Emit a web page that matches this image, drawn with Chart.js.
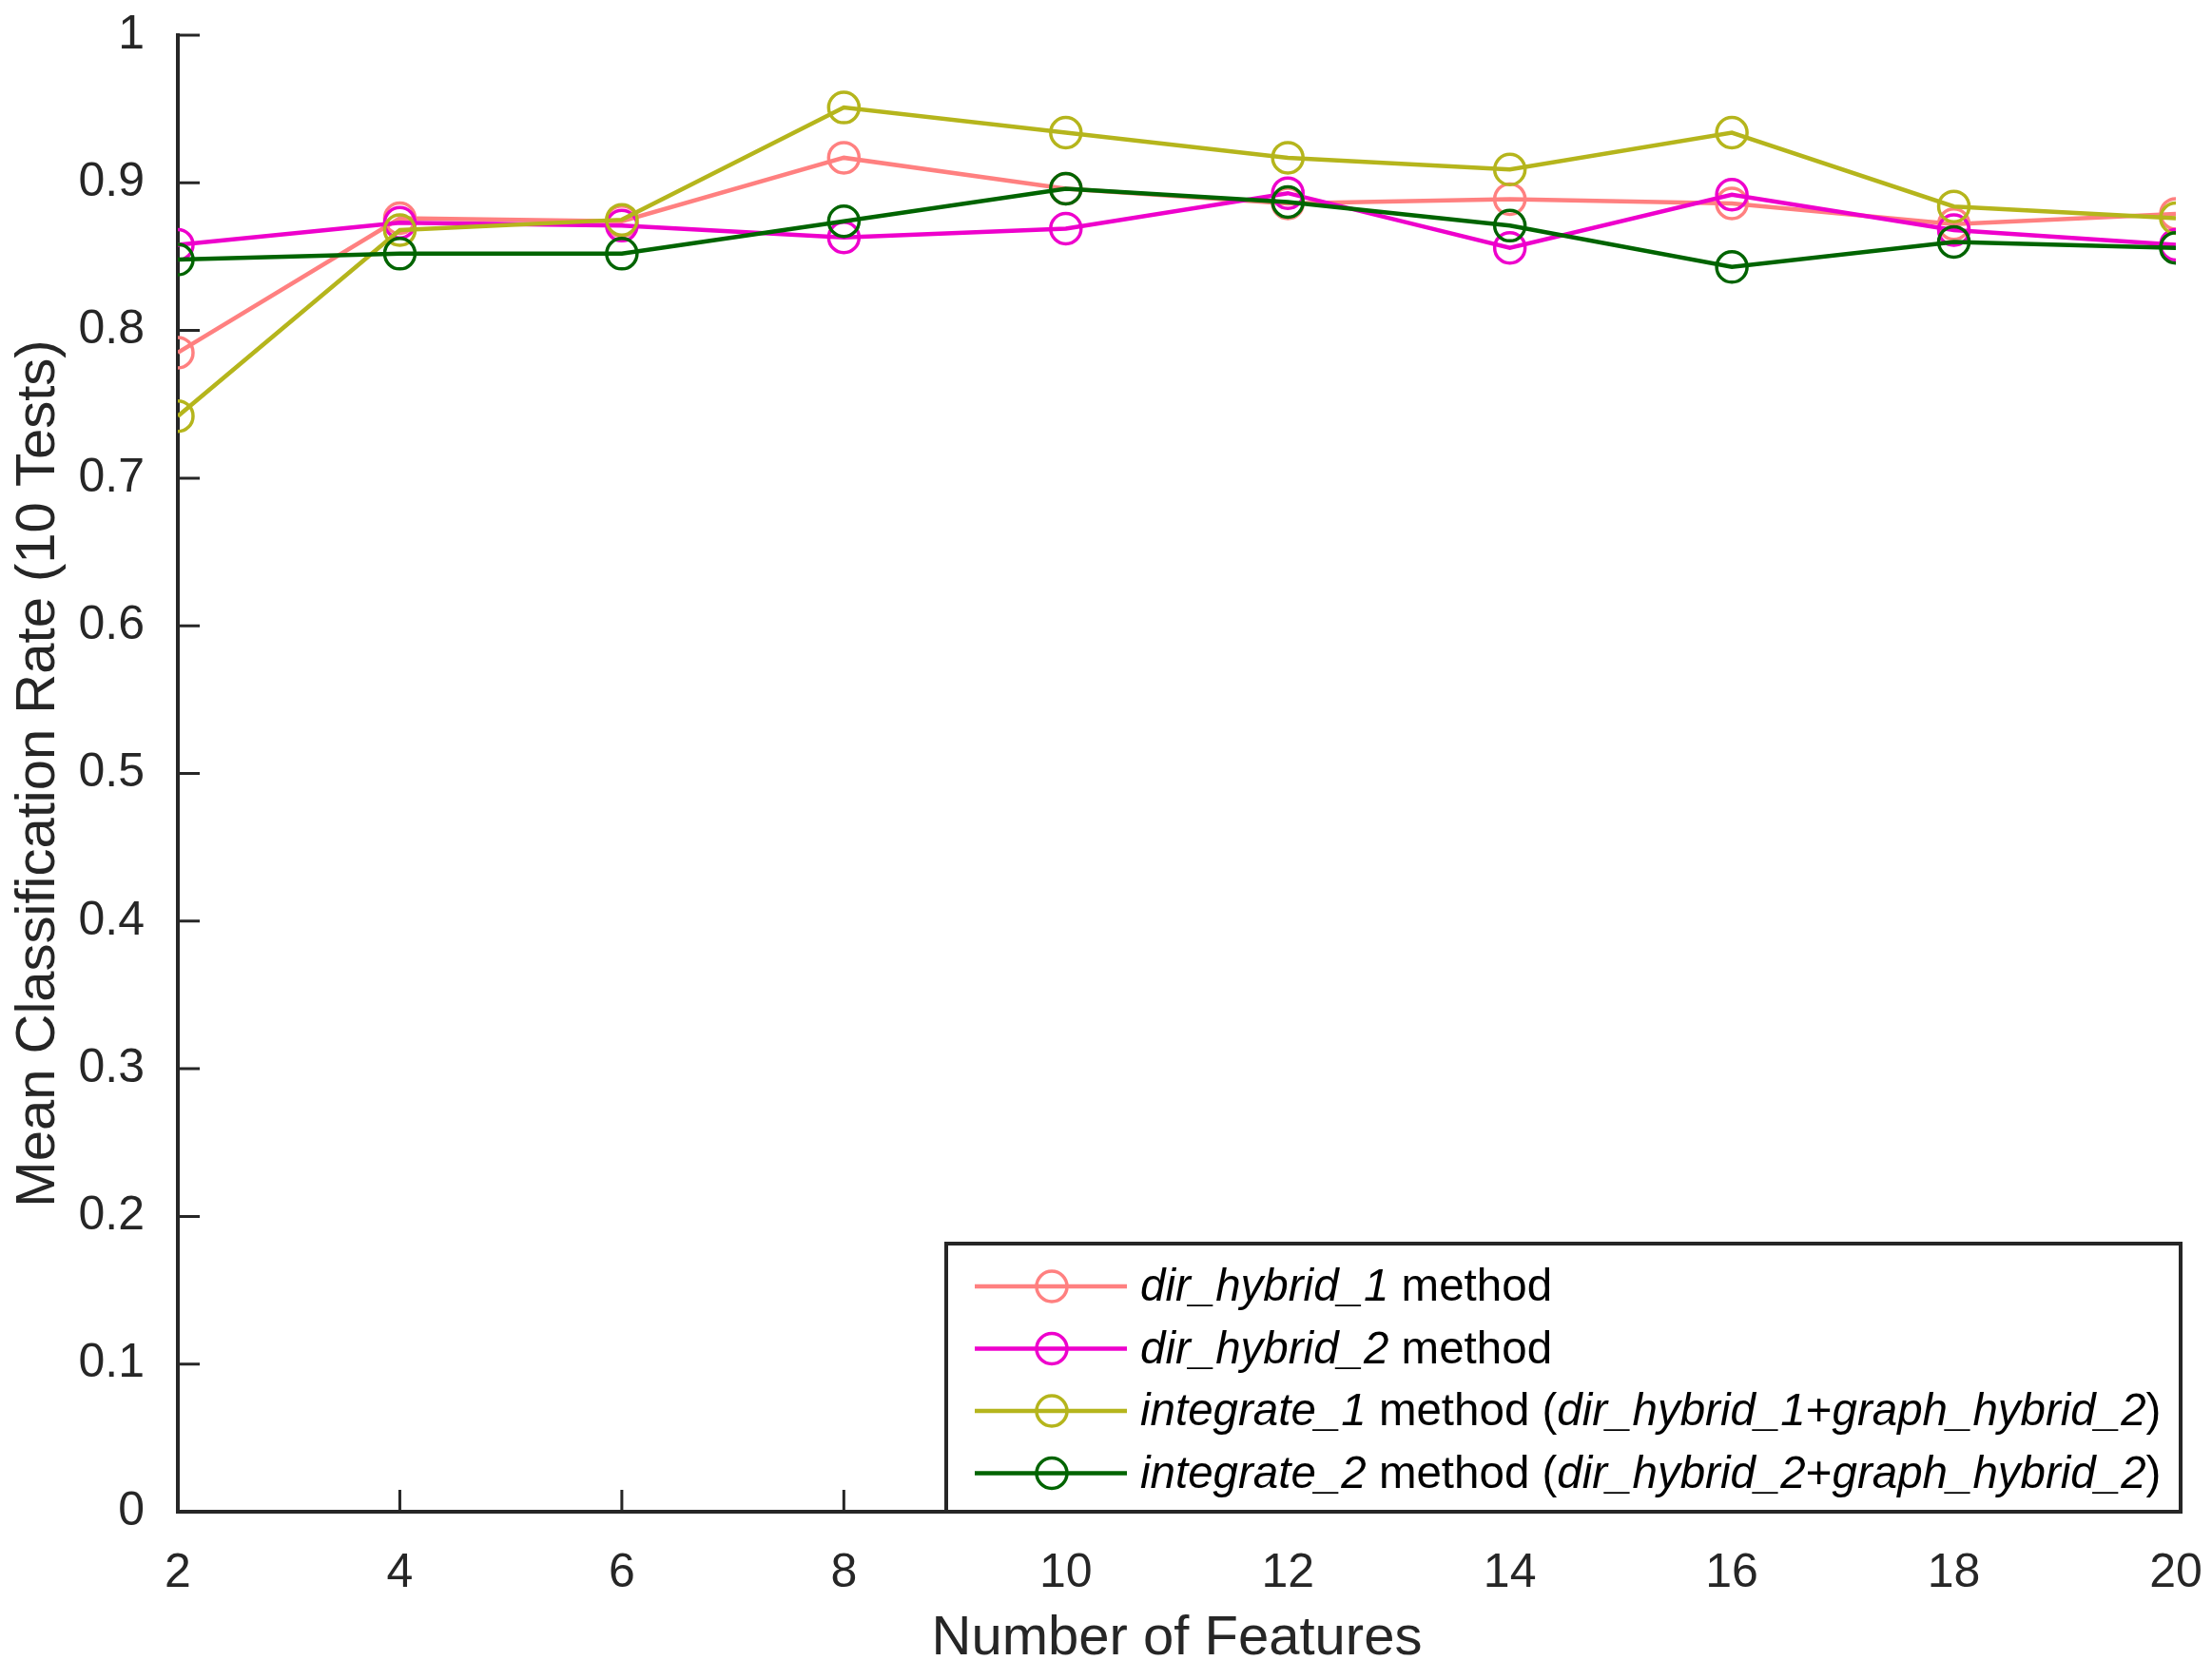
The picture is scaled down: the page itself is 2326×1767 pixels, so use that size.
<!DOCTYPE html>
<html>
<head>
<meta charset="utf-8">
<script src="https://cdn.jsdelivr.net/npm/chart.js@4.4.1/dist/chart.umd.min.js"></script>
<style>
    html, body { margin: 0; padding: 0; background: #fff; }
    #wrap { width: 2326px; height: 1767px; }
</style>
</head>
<body>
<div id="wrap"><canvas id="mainChart" width="2326" height="1767"></canvas></div>
<script>
// ข้อมูลที่อ่านจากกราฟ
const features = [2, 4, 6, 8, 10, 12, 14, 16, 18, 20];
const dirHybrid1 = [0.785, 0.876, 0.874, 0.917, 0.896, 0.886, 0.889, 0.886, 0.872, 0.879];
const dirHybrid2 = [0.858, 0.873, 0.871, 0.863, 0.869, 0.893, 0.856, 0.892, 0.868, 0.858];
const integrate1 = [0.742, 0.868, 0.875, 0.951, 0.934, 0.917, 0.909, 0.934, 0.884, 0.876];
const integrate2 = [0.848, 0.852, 0.852, 0.874, 0.896, 0.887, 0.871, 0.843, 0.860, 0.856];
const yTicks = [0, 0.1, 0.2, 0.3, 0.4, 0.5, 0.6, 0.7, 0.8, 0.9, 1];

// ป้ายคำอธิบาย (ส่วนที่เป็นตัวเอียง i: true)
const legendLabels = [
    [{ t: 'dir_hybrid_1', i: true }, { t: ' method' }],
    [{ t: 'dir_hybrid_2', i: true }, { t: ' method' }],
    [{ t: 'integrate_1', i: true }, { t: ' method (' }, { t: 'dir_hybrid_1', i: true }, { t: '+' }, { t: 'graph_hybrid_2', i: true }, { t: ')' }],
    [{ t: 'integrate_2', i: true }, { t: ' method (' }, { t: 'dir_hybrid_2', i: true }, { t: '+' }, { t: 'graph_hybrid_2', i: true }, { t: ')' }],
];
const seriesColors = ['#FF8080', '#EE00CC', '#B5B51C', '#006400'];
const seriesValues = [dirHybrid1, dirHybrid2, integrate1, integrate2];

const FONT = '"Liberation Sans", Arial, sans-serif';
const AXIS_COLOR = '#262626';

function toPoints(values) {
    return features.map((f, idx) => ({ x: f, y: values[idx] }));
}

// แกนแบบ MATLAB: เส้นแกนซ้าย/ล่าง กับขีดชี้เข้าด้านใน
const matlabAxes = {
    id: 'matlabAxes',
    beforeDatasetsDraw(chart) {
        const { ctx, chartArea, scales } = chart;
        const tick = 23;
        ctx.save();
        ctx.strokeStyle = AXIS_COLOR;
        ctx.lineWidth = 3;
        ctx.beginPath();
        features.forEach(v => {
            const px = scales.x.getPixelForValue(v);
            ctx.moveTo(px, chartArea.bottom);
            ctx.lineTo(px, chartArea.bottom - tick);
        });
        yTicks.forEach(v => {
            const py = scales.y.getPixelForValue(v);
            ctx.moveTo(chartArea.left, py);
            ctx.lineTo(chartArea.left + tick, py);
        });
        ctx.stroke();
        ctx.lineWidth = 4;
        ctx.beginPath();
        ctx.moveTo(chartArea.left, chartArea.top - 2);
        ctx.lineTo(chartArea.left, chartArea.bottom);
        ctx.lineTo(chartArea.right, chartArea.bottom);
        ctx.stroke();
        ctx.restore();
    },
    afterDraw(chart) {
        const { ctx, chartArea } = chart;
        const boxLeft = 995, boxTop = 1308;
        const boxRight = chartArea.right + 5, boxBottom = chartArea.bottom;
        ctx.save();
        ctx.fillStyle = '#fff';
        ctx.fillRect(boxLeft, boxTop, boxRight - boxLeft, boxBottom - boxTop);
        ctx.strokeStyle = AXIS_COLOR;
        ctx.lineWidth = 4;
        ctx.strokeRect(boxLeft, boxTop, boxRight - boxLeft, boxBottom - boxTop);

        legendLabels.forEach((parts, i) => {
            const cy = 1353 + i * 65.5;
            ctx.strokeStyle = seriesColors[i];
            ctx.lineWidth = 4.5;
            ctx.beginPath();
            ctx.moveTo(1025, cy);
            ctx.lineTo(1185, cy);
            ctx.stroke();
            ctx.lineWidth = 3.5;
            ctx.beginPath();
            ctx.arc(1106, cy, 16, 0, Math.PI * 2);
            ctx.stroke();

            let tx = 1199;
            ctx.fillStyle = '#000';
            ctx.textBaseline = 'middle';
            parts.forEach(p => {
                ctx.font = (p.i ? 'italic ' : '') + '47.5px ' + FONT;
                ctx.fillText(p.t, tx, cy + 2);
                tx += ctx.measureText(p.t).width;
            });
        });
        ctx.restore();
    }
};

const ctx = document.getElementById('mainChart').getContext('2d');
new Chart(ctx, {
    type: 'line',
    data: {
        datasets: seriesValues.map((vals, i) => ({
            label: legendLabels[i].map(p => p.t).join(''),
            data: toPoints(vals),
            borderColor: seriesColors[i],
            backgroundColor: 'transparent',
            pointBackgroundColor: 'transparent',
            pointBorderColor: seriesColors[i],
            pointBorderWidth: 3.5,
            pointRadius: 16,
            pointStyle: 'circle',
            borderWidth: 4.5,
            tension: 0,
            order: 4 - i,
        })),
    },
    options: {
        responsive: false,
        animation: false,
        events: [],
        layout: { padding: { left: 0, top: 37, right: 38, bottom: 0 } },
        plugins: { legend: { display: false }, tooltip: { enabled: false } },
        scales: {
            x: {
                type: 'linear',
                min: 2,
                max: 20,
                afterFit(scale) {
                    scale.height = 177;
                    scale.paddingLeft = 0;
                    scale.paddingRight = 0;
                },
                afterBuildTicks(scale) { scale.ticks = features.map(v => ({ value: v })); },
                grid: { display: false },
                border: { display: false },
                ticks: {
                    color: AXIS_COLOR,
                    font: { family: FONT, size: 50 },
                    padding: 27,
                    maxRotation: 0,
                    autoSkip: false,
                },
                title: {
                    display: true,
                    text: 'Number of Features',
                    color: AXIS_COLOR,
                    font: { family: FONT, size: 58 },
                    padding: { top: 8, bottom: 8 },
                },
            },
            y: {
                type: 'linear',
                min: 0,
                max: 1,
                afterFit(scale) {
                    scale.width = 187;
                    scale.paddingTop = 0;
                    scale.paddingBottom = 0;
                },
                afterBuildTicks(scale) { scale.ticks = yTicks.map(v => ({ value: v })); },
                grid: { display: false },
                border: { display: false },
                ticks: {
                    color: AXIS_COLOR,
                    font: { family: FONT, size: 50 },
                    padding: 27,
                    callback: v => String(Math.round(v * 10) / 10),
                },
                title: {
                    display: true,
                    text: 'Mean Classification Rate (10 Tests)',
                    color: AXIS_COLOR,
                    font: { family: FONT, size: 58 },
                    padding: { top: 6, bottom: 6 },
                },
            },
        },
    },
    plugins: [matlabAxes],
});
</script>
</body>
</html>
